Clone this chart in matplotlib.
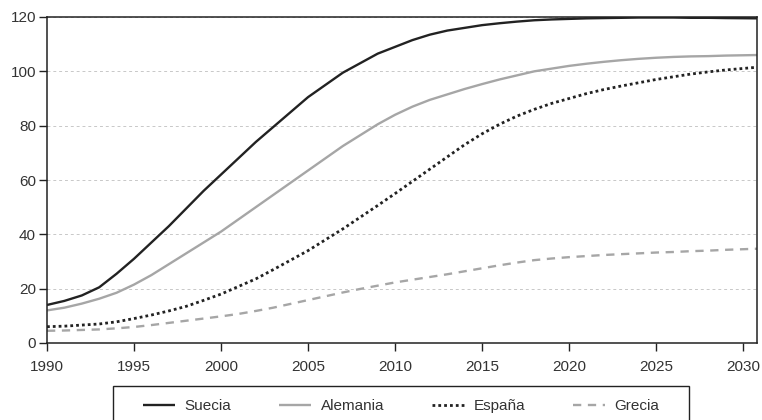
import matplotlib
matplotlib.use("Agg")
import matplotlib.pyplot as plt
from matplotlib.patches import Rectangle

years = [1990, 1991, 1992, 1993, 1994, 1995, 1996, 1997, 1998, 1999, 2000,
         2001, 2002, 2003, 2004, 2005, 2006, 2007, 2008, 2009, 2010,
         2011, 2012, 2013, 2014, 2015, 2016, 2017, 2018, 2019, 2020,
         2021, 2022, 2023, 2024, 2025, 2026, 2027, 2028, 2029, 2030.8]
suecia = [14, 15.5, 17.5, 20.5, 25.5, 31, 37, 43, 49.5, 56, 62,
          68, 74, 79.5, 85, 90.5, 95, 99.5, 103, 106.5, 109,
          111.5, 113.5, 115, 116, 117, 117.7, 118.3, 118.8, 119.1, 119.3,
          119.5, 119.6, 119.7, 119.8, 119.8, 119.8, 119.7, 119.7, 119.6, 119.5]
alemania = [12, 13, 14.5, 16.3, 18.5, 21.5, 25, 29, 33, 37, 41,
            45.5, 50, 54.5, 59, 63.5, 68, 72.5, 76.5, 80.5, 84,
            87, 89.5, 91.5, 93.5, 95.3, 97, 98.5, 100, 101, 102,
            102.8, 103.5, 104.1, 104.6, 105, 105.3, 105.5, 105.6, 105.8, 106]
espana = [6, 6.2, 6.6, 7, 7.8, 9, 10.3, 11.8, 13.5, 15.7, 18,
          20.8, 23.6, 27, 30.5, 34, 38, 42, 46.3, 50.6, 55,
          59.5, 64, 68.5, 73, 77, 80.5, 83.5, 86, 88.2, 90,
          91.8, 93.3, 94.6, 95.8, 97, 98, 99, 99.8, 100.5, 101.5]
grecia = [4.5, 4.6, 4.8, 5, 5.4, 5.9, 6.6, 7.4, 8.2, 9, 9.8,
          10.7, 11.8, 13, 14.4, 15.8, 17.2, 18.6, 19.9, 21.1, 22.3,
          23.3, 24.3, 25.3, 26.4, 27.5, 28.6, 29.6, 30.5, 31.1, 31.6,
          32, 32.4, 32.7, 33, 33.3, 33.5, 33.8, 34, 34.3, 34.7]

series_names = ["Suecia", "Alemania", "España", "Grecia"]
xticks = [1990, 1995, 2000, 2005, 2010, 2015, 2020, 2025, 2030]
yticks = [0, 20, 40, 60, 80, 100, 120]

plt.rcParams['font.family'] = ['Liberation Sans', 'DejaVu Sans']

W, H = 762, 420
fig = plt.figure(figsize=(W/100, H/100), dpi=100)
ax = fig.add_axes([47/W, 1 - 343/H, (757-47)/W, (343-17)/H])

black = "#222222"
gray = "#a6a6a6"
ax.plot(years, suecia, color=black, lw=1.7, label=series_names[0], solid_capstyle='butt')
ax.plot(years, alemania, color=gray, lw=1.7, label=series_names[1], solid_capstyle='butt')
ax.plot(years, espana, color=black, lw=2.0, linestyle=(0, (1, 1.1)), label=series_names[2])
ax.plot(years, grecia, color=gray, lw=1.7, linestyle=(0, (3.5, 2.8)), label=series_names[3])

ax.set_xlim(1990, 2030.8)
ax.set_ylim(0, 120)
ax.set_xticks(xticks)
ax.set_yticks(yticks)
ax.yaxis.grid(True, color="#c8c8c8", linestyle=(0, (3, 3)), lw=0.7)
ax.set_axisbelow(True)
for s in ax.spines.values():
    s.set_color(black)
    s.set_linewidth(1.1)
ax.tick_params(axis='both', direction='out', length=6, width=1.0, color=black,
               labelsize=11, labelcolor="#333333")
ax.tick_params(axis='x', pad=6)
ax.tick_params(axis='y', pad=2)

# legend frame (extends past bottom of figure as in reference)
fig.patches.append(Rectangle((113/W, -0.05), (689-113)/W, 0.05 + 1 - 386/H,
                             transform=fig.transFigure, fill=False,
                             edgecolor=black, lw=1.0))
handles, labels = ax.get_legend_handles_labels()
leg = fig.legend(handles, labels, loc='center', bbox_to_anchor=(401/W, 1 - 406/H), ncol=4,
                 frameon=False, fontsize=11, handlelength=2.1, columnspacing=3.1,
                 handletextpad=0.65, borderpad=0, borderaxespad=0)
for t in leg.get_texts():
    t.set_color("#333333")

fig.savefig("out.png", dpi=100)
